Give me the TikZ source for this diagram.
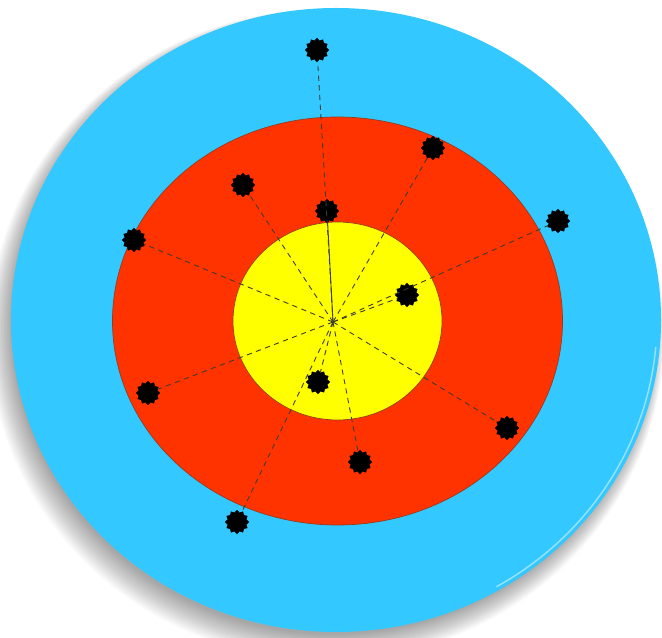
\documentclass[tikz,border=0pt]{standalone}
\usepackage{tikz}
\usetikzlibrary{shapes.geometric}

\definecolor{ringblue}{RGB}{51,200,255}
\definecolor{ringred}{RGB}{255,51,0}
\definecolor{ringyellow}{RGB}{255,255,0}
\definecolor{ringedge}{RGB}{150,60,30}
\definecolor{lineg}{RGB}{60,60,50}

\begin{document}
\begin{tikzpicture}[x=0.02cm,y=-0.02cm,semithick]
            % 设置样式
            \tikzstyle{hit}=[star,star points=12,star point ratio=1.25,fill=black,draw=black,inner sep=0pt,minimum size=13]
            \tikzstyle{trace}=[line width=0.5pt,draw=lineg,dash pattern=on 3pt off 2.5pt]

            \useasboundingbox (0,0) rectangle (662,638);
            \fill[white] (0,0) rectangle (662,638);

            % 阴影
            \foreach \k in {1,...,16}
                \fill[black,opacity=0.022] (333-0.4*\k,325+0.6*\k) ellipse ({320+1.1*\k} and {308+1.1*\k});

            % 靶面
            \fill[ringblue] (336,320) ellipse (325 and 312);
            \draw[white,opacity=0.5,line width=0.8pt] (336,320) ++(5:321 and 308) arc[start angle=5,end angle=60,x radius=321,y radius=308];
            \filldraw[fill=ringred,draw=ringedge,thin] (337.5,321) ellipse (225 and 204);
            \filldraw[fill=ringyellow,draw=ringedge,thin] (337.5,321) ellipse (104.5 and 99);

            % 定义节点
            \coordinate (O) at (333,322); % 中心
            \node[hit] (s1) at (317,50) {};
            \node[hit] (s2) at (433,148) {};
            \node[hit] (s3) at (243,185) {};
            \node[hit] (s4) at (327,211) {};
            \node[hit] (s5) at (134,240) {};
            \node[hit] (s6) at (558,221) {};
            \node[hit] (s7) at (407,295) {};
            \node[hit] (s8) at (318,382) {};
            \node[hit] (s9) at (148,393) {};
            \node[hit] (s10) at (507,428) {};
            \node[hit] (s11) at (360,462) {};
            \node[hit] (s12) at (237,522) {};

            % 定义路径
            \path[trace]
            (O) edge (s1)
                edge (s2)
                edge (s3)
                edge (s5)
                edge (s6)
                edge (s7)
                edge (s8)
                edge (s9)
                edge (s10)
                edge (s11)
                edge (s12);
            \draw[line width=0.5pt,draw=lineg] (O) -- (s4);
        \end{tikzpicture}
\end{document}
